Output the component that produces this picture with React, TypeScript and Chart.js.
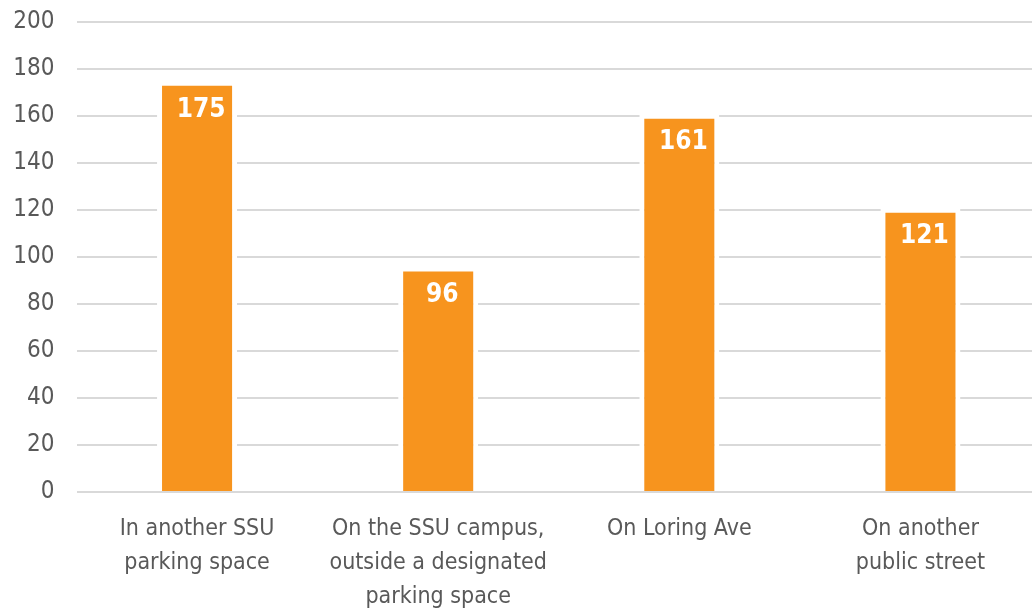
import React, { useEffect, useRef } from "react";
import { Chart, registerables } from "chart.js";

Chart.register(...registerables);

const categories: string[][] = [
  ["In another SSU", "parking space"],
  ["On the SSU campus,", "outside a designated", "parking space"],
  ["On Loring Ave"],
  ["On another", "public street"],
];
const values: number[] = [175, 96, 161, 121];
const yTicks: number[] = [0, 20, 40, 60, 80, 100, 120, 140, 160, 180, 200];

const FONT = "'DejaVu Sans Condensed', 'Liberation Sans Narrow', sans-serif";

const labelPlugin = {
  id: "barValueLabels",
  afterDatasetsDraw(chart: any) {
    const ctx = chart.ctx;
    const meta = chart.getDatasetMeta(0);
    ctx.save();
    ctx.fillStyle = "#ffffff";
    ctx.font = `bold 26px ${FONT}`;
    ctx.textAlign = "center";
    ctx.textBaseline = "middle";
    meta.data.forEach((el: any, i: number) => {
      ctx.fillText(String(values[i]), el.x + 4, el.y + 29);
    });
    ctx.restore();
  },
};

export default function App() {
  const ref = useRef<HTMLCanvasElement | null>(null);
  useEffect(() => {
    document.body.style.margin = "0";
    if (!ref.current) return;
    const chart = new Chart(ref.current, {
      type: "bar",
      data: {
        labels: categories,
        datasets: [
          {
            data: values,
            backgroundColor: "#F7941E",
            borderColor: "#ffffff",
            borderWidth: { top: 5, left: 5, right: 5, bottom: 0 },
            borderSkipped: "bottom",
            categoryPercentage: 1,
            barPercentage: 0.332,
          },
        ],
      },
      options: {
        animation: false,
        responsive: false,
        layout: { padding: { top: 22, right: 0, left: 0, bottom: 0 } },
        plugins: { legend: { display: false }, tooltip: { enabled: false } },
        scales: {
          x: {
            grid: { display: false },
            border: { display: false },
            ticks: {
              color: "#595959",
              font: { family: FONT, size: 23, lineHeight: "34px" },
              padding: 12,
              maxRotation: 0,
              autoSkip: false,
            },
            afterFit(scale: any) {
              scale.height = 119;
              scale.paddingLeft = 0;
              scale.paddingRight = 0;
              scale.paddingTop = 0;
              scale.paddingBottom = 0;
            },
          },
          y: {
            min: 0,
            max: 200,
            afterBuildTicks(scale: any) {
              scale.ticks = yTicks.map((v) => ({ value: v }));
            },
            grid: { color: "#d9d9d9", lineWidth: 2, drawTicks: false },
            border: { display: false },
            ticks: {
              color: "#595959",
              font: { family: FONT, size: 24 },
              padding: 22,
            },
            afterFit(scale: any) {
              scale.width = 76.5;
              scale.paddingTop = 0;
              scale.paddingBottom = 0;
            },
          },
        },
      },
      plugins: [labelPlugin],
    });
    return () => chart.destroy();
  }, []);
  return (
    <div style={{ position: "fixed", left: 0, top: 0, width: 1032, height: 611, overflow: "hidden", background: "#fff" }}>
      <canvas ref={ref} width={1041} height={611} style={{ width: 1041, height: 611, display: "block" }} />
    </div>
  );
}
